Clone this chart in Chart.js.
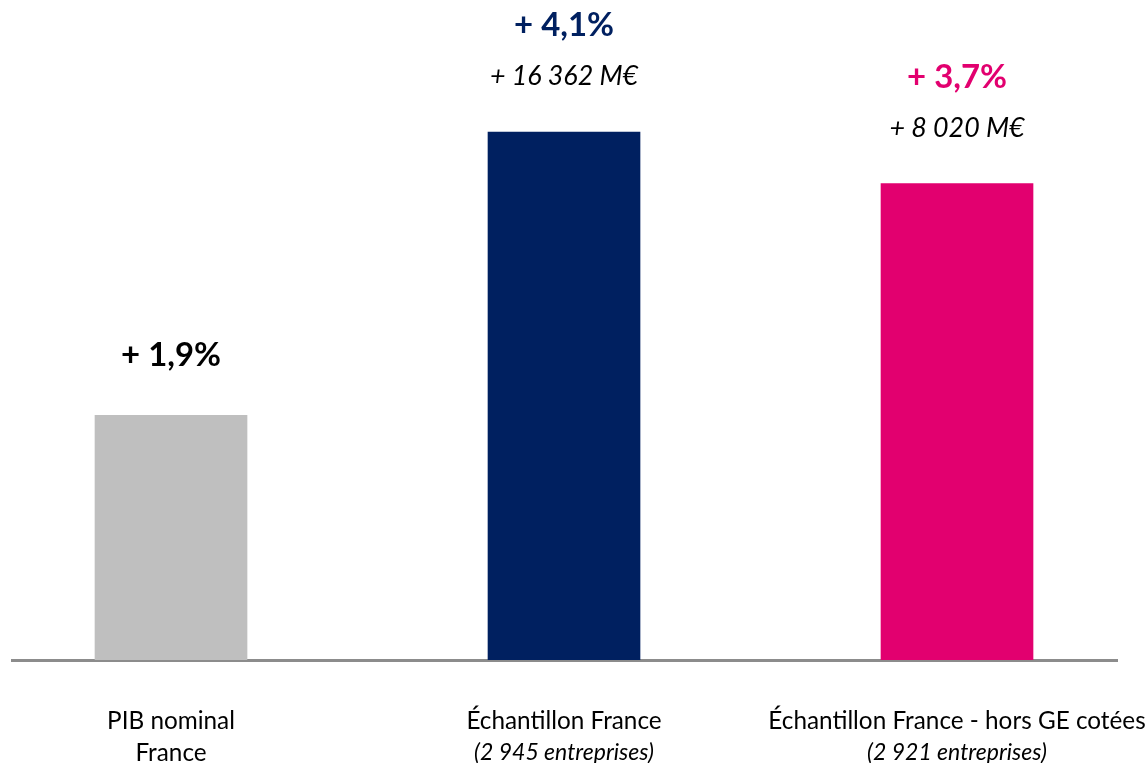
<!DOCTYPE html>
<html>
<head>
<meta charset="utf-8">
<script src="https://cdn.jsdelivr.net/npm/chart.js@4.4.1/dist/chart.umd.min.js"></script>
<style>
  html, body { margin: 0; padding: 0; background: #ffffff; }
  #wrap { position: relative; width: 1148px; height: 763px; }
</style>
</head>
<body>
<div id="wrap"><canvas id="c" width="1148" height="763"></canvas></div>
<script>
// ---- data ----
const positions = [0, 1, 2];
const tickLines = [['PIB nominal', 'France'], ['Échantillon France'], ['Échantillon France - hors GE cotées']];
const subLabels = ['', '(2 945 entreprises)', '(2 921 entreprises)'];
const values = [1.9, 4.1, 3.7];
const amountLabels = ['', '+ 16 362 M€', '+ 8 020 M€'];

// ---- styles ----
const barColors = ['#BFBFBF', '#002060', '#E2006F'];
const pctColors = ['#000000', '#002060', '#E2006F'];
const FONT = 'Lato';

const fmtPct = v => '+ ' + v.toFixed(1).replace('.', ',') + '%';

const labelsPlugin = {
  id: 'barLabels',
  afterDatasetsDraw(chart) {
    const ctx = chart.ctx;
    const meta = chart.getDatasetMeta(0);
    ctx.save();
    ctx.textAlign = 'center';
    ctx.textBaseline = 'alphabetic';
    meta.data.forEach((bar, i) => {
      let y = bar.y - 47;
      if (amountLabels[i]) {
        ctx.font = 'italic 26.8px "' + FONT + '"';
        ctx.fillStyle = '#000000';
        ctx.fillText(amountLabels[i], bar.x, y);
        y -= 49;
      } else {
        y -= 2;
      }
      ctx.font = 'bold 32.9px "' + FONT + '"';
      ctx.fillStyle = pctColors[i];
      ctx.fillText(fmtPct(values[i]), bar.x, y);
    });
    // italic sub labels under the category labels
    const xs = chart.scales.x;
    ctx.font = 'italic 23px "' + FONT + '"';
    ctx.fillStyle = '#000000';
    subLabels.forEach((s, i) => {
      if (!s) return;
      ctx.fillText(s, xs.getPixelForValue(positions[i]), 760);
    });
    ctx.restore();
  }
};

new Chart(document.getElementById('c'), {
  type: 'bar',
  data: {
    datasets: [{
      data: positions.map((p, i) => ({ x: p, y: values[i] })),
      backgroundColor: barColors,
      barThickness: 152
    }]
  },
  options: {
    responsive: false,
    animation: false,
    devicePixelRatio: 1,
    layout: { padding: { left: 12, right: 31, top: 0, bottom: 0 } },
    plugins: { legend: { display: false }, tooltip: { enabled: false } },
    scales: {
      x: {
        type: 'linear',
        offset: false,
        min: -0.4046,
        max: 2.4071,
        grid: { display: false, drawTicks: false, offset: false },
        border: { display: true, color: '#8C8C8C', width: 3 },
        afterBuildTicks(scale) { scale.ticks = positions.map(v => ({ value: v })); },
        afterFit(scale) {
          scale.height = 103;
          scale.paddingLeft = 0;
          scale.paddingRight = 0;
        },
        ticks: {
          autoSkip: false,
          maxRotation: 0,
          padding: 45,
          color: '#000000',
          font: { family: FONT, size: 24.3, lineHeight: 1.32 },
          callback: (v) => { const i = positions.indexOf(v); return i >= 0 ? tickLines[i] : ''; }
        }
      },
      y: {
        display: false,
        min: 0,
        max: 5.125
      }
    }
  },
  plugins: [labelsPlugin]
});
</script>
</body>
</html>
